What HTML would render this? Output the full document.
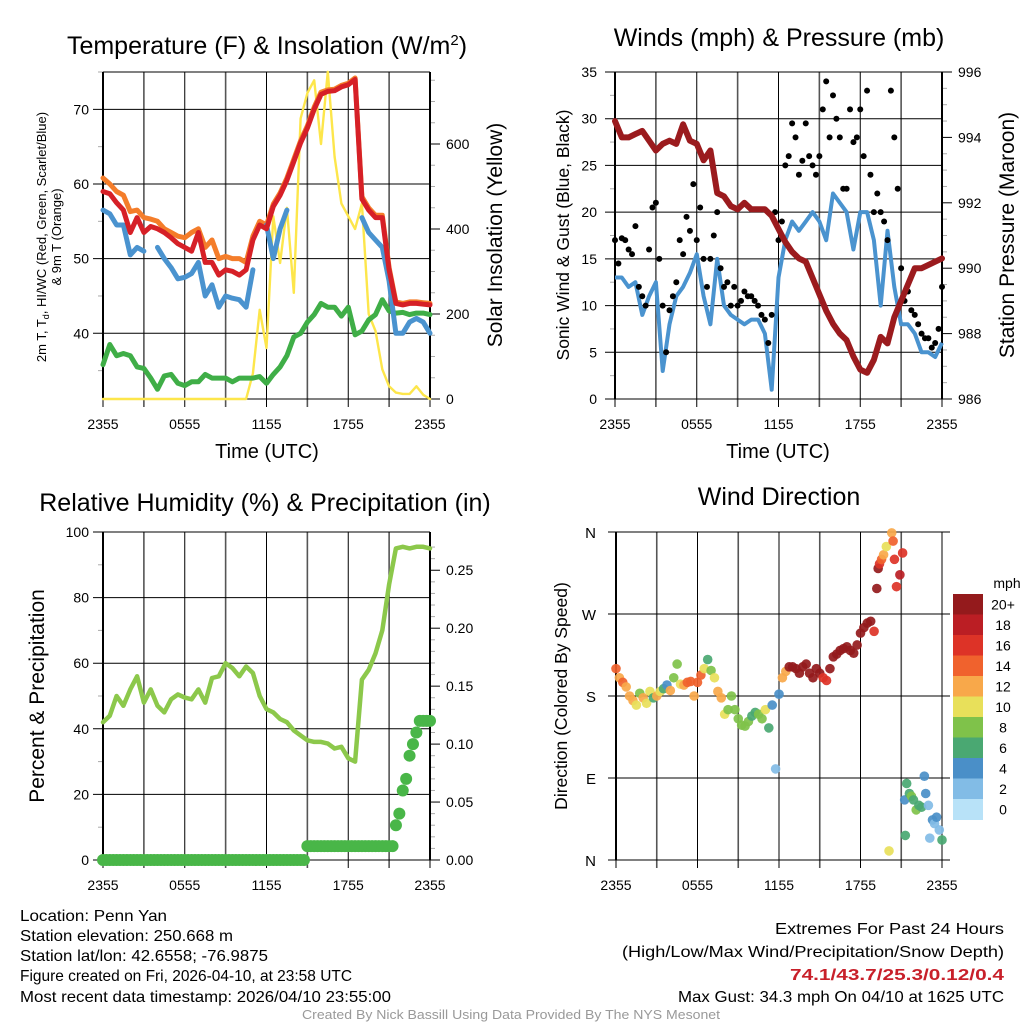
<!DOCTYPE html>
<html><head><meta charset="utf-8"><style>
html,body{margin:0;padding:0;background:#fff}
svg{display:block;font-family:"Liberation Sans",sans-serif}
</style></head><body>
<svg id="fig" width="1024" height="1024" viewBox="0 0 1024 1024" xmlns="http://www.w3.org/2000/svg">
<rect width="1024" height="1024" fill="#fff"/>
<g id="g"></g>
<g font-size="16" fill="#000">
<text x="20" y="921" textLength="147" lengthAdjust="spacingAndGlyphs">Location: Penn Yan</text>
<text x="20" y="941" textLength="213" lengthAdjust="spacingAndGlyphs">Station elevation: 250.668 m</text>
<text x="20" y="961" textLength="248" lengthAdjust="spacingAndGlyphs">Station lat/lon: 42.6558; -76.9875</text>
<text x="20" y="981" textLength="332" lengthAdjust="spacingAndGlyphs">Figure created on Fri, 2026-04-10, at 23:58 UTC</text>
<text x="20" y="1002" textLength="371" lengthAdjust="spacingAndGlyphs">Most recent data timestamp: 2026/04/10 23:55:00</text>
<text x="775" y="934" textLength="229" lengthAdjust="spacingAndGlyphs">Extremes For Past 24 Hours</text>
<text x="622" y="957" textLength="382" lengthAdjust="spacingAndGlyphs">(High/Low/Max Wind/Precipitation/Snow Depth)</text>
<text x="790" y="980" textLength="214" lengthAdjust="spacingAndGlyphs" fill="#c8202a" font-weight="bold">74.1/43.7/25.3/0.12/0.4</text>
<text x="678" y="1002" textLength="326" lengthAdjust="spacingAndGlyphs">Max Gust: 34.3 mph On 04/10 at 1625 UTC</text>
<text x="302" y="1019" textLength="418" lengthAdjust="spacingAndGlyphs" font-size="13" fill="#999">Created By Nick Bassill Using Data Provided By The NYS Mesonet</text>
</g>
</svg>
<script>
// ---------- data ----------
const hours = [0,0.5,1,1.5,2,2.5,3,3.5,4,4.5,5,5.5,6,6.5,7,7.5,8,8.5,9,9.5,10,10.5,11,11.5,12,12.5,13,13.5,14,14.5,15,15.5,16,16.5,17,17.5,18,18.5,19,19.5,20,20.5,21,21.5,22,22.5,23,23.5,24];
const xTickLabels = ["2355","0555","1155","1755","2355"];
const tempRed = [59,58.7,57.5,56.5,53.5,55.5,53.5,54.3,54,53.5,52.8,52,51.5,51,53.5,49.5,49.5,47.8,48.5,48.3,47.8,48.5,52.5,54.5,54,57,58.5,60.5,63,65.5,67.5,70,72,72.4,72.5,73,73.3,74,58,56.5,55.5,55.5,48.5,44,43.8,44,44,43.9,43.8];
const temp9m = [60.8,60,59,58.5,56.3,56.5,55.5,55.3,55,54,53.5,53,52.8,53.5,54,51.5,52.5,50,50.3,50,50,49.5,53,55,54.5,57.3,58.8,60.8,63.3,65.8,67.8,70.3,72.3,72.6,72.7,73.2,73.5,74.2,58.3,56.8,55.8,55.8,48.8,44.2,44,44.2,44.2,44.1,44];
const windChill = [56.5,56,54.5,54.5,50.5,51.5,51,null,51.5,50,48.8,47.3,47.5,48,49.5,45,46.5,43.5,45,44.7,44.5,43.5,48.5,null,54.5,50,54,56.5,null,null,null,null,null,null,null,null,null,null,55.5,53.5,52.5,51.5,47,40,40,41.5,42,41.5,40];
const dewpoint = [35.8,38.5,37,37.3,37,35.5,35.3,34,32.5,34.3,34.5,33.3,33,33.5,33.5,34.5,34,34,34,33.5,34,34,34,34.2,33.3,34.5,35.5,37,39.5,40,41.5,42.5,44,43.5,43.5,42.3,43.5,39.8,40.3,41.8,42.5,44.5,43,42.7,42.8,42.5,42.7,42.7,42.5];
const insolation = [0,0,0,0,0,0,0,0,0,0,0,0,0,0,0,0,0,0,0,0,0,0,60,210,120,430,320,450,250,660,720,750,600,770,570,460,430,400,460,200,160,70,30,15,12,12,30,10,0];
const tempTicks = [40,50,60,70];
const insolTicks = [0,200,400,600];
const sonicWind = [13,13,12,12.5,9,11,12.5,3,8,11,12,13.5,15.5,11,8,15,10,9,8.5,8,8.5,8.5,7,1,13,17,19,18,19,20,19,17,22,21,20,16,20,20,17,10,18,12,8,8,7,5,5,4.5,6];
const pressure = [994.5,994.0,994.0,994.1,994.2,993.9,993.6,993.8,993.9,993.8,994.4,993.9,993.8,993.3,993.6,992.3,992.2,991.9,991.8,992.0,991.8,991.8,991.8,991.6,991.2,990.8,990.5,990.3,990.2,989.7,989.2,988.7,988.3,988.0,987.8,987.3,986.9,986.8,987.2,987.9,987.7,988.5,989.0,989.5,990.0,990.0,990.1,990.2,990.3];
const gustHours = [0,0.25,0.5,0.75,1,1.25,1.5,1.75,2,2.25,2.5,2.75,3,3.25,3.5,3.75,4,4.25,4.5,4.75,5,5.25,5.5,5.75,6,6.25,6.5,6.75,7,7.25,7.5,7.75,8,8.25,8.5,8.75,9,9.25,9.5,9.75,10,10.25,10.5,10.75,11,11.25,11.5,11.75,12,12.25,12.5,12.75,13,13.25,13.5,13.75,14,14.25,14.5,14.75,15,15.25,15.5,15.75,16,16.25,16.5,16.75,17,17.25,17.5,17.75,18,18.25,18.5,18.75,19,19.25,19.5,19.75,20,20.25,20.5,20.75,21,21.25,21.5,21.75,22,22.25,22.5,22.75,23,23.25,23.5,23.75,24];
const gusts = [17,14.5,17.2,17,16,15.5,18.5,12,11,10,16,20.5,21,15,10,5,9.5,11,12.5,17,15.5,19.5,18,23,17,20.5,15,12,15,17.5,20,14,12,12.5,10,12,10,10.5,11.5,11,11,10.5,10,9,8.5,6,9,20,17,19,25,26,29.5,28,24,25.5,29.5,26,25,24,26,31,34,28,32.5,30,28,22.5,22.5,31,27.5,28,31,26,33,24,20,22,20,19,17,33,28,22.5,14,10.5,11.5,9.5,9,8,7,6.5,6.5,5.5,6,7.5,12];
const windTicks = [0,5,10,15,20,25,30,35];
const pressTicks = [986,988,990,992,994,996];
const relHum = [42,44,50,47,52,56,48,52,47,45,49,50.5,49.5,49,52,48,55.5,56,60,58.5,56,59,57,50,46,45,43,42,39.5,38,36.5,36,36,35.5,34,34.5,31,30,55,58,63,70,84,95,95.5,95,95.5,95.5,95];
const precip = [0,0,0,0,0,0,0,0,0,0,0,0,0,0,0,0,0,0,0,0,0,0,0,0,0,0,0,0,0,0,0,0,0,0,0,0,0,0,0,0,0,0,0,0,0,0,0,0,0,0,0,0,0,0,0,0,0,0,0,0,0.012,0.012,0.012,0.012,0.012,0.012,0.012,0.012,0.012,0.012,0.012,0.012,0.012,0.012,0.012,0.012,0.012,0.012,0.012,0.012,0.012,0.012,0.012,0.012,0.012,0.012,0.03,0.04,0.06,0.07,0.09,0.1,0.11,0.12,0.12,0.12,0.12];
const rhTicks = [0,20,40,60,80,100];
const precipTicks = ["0.00","0.05","0.10","0.15","0.20","0.25"];
const dirHours = [0,0.25,0.5,0.75,1,1.25,1.5,1.75,2,2.25,2.5,2.75,3,3.25,3.5,3.75,4,4.25,4.5,4.75,5,5.25,5.5,5.75,6,6.25,6.5,6.75,7,7.25,7.5,7.75,8,8.25,8.5,8.75,9,9.25,9.5,9.75,10,10.25,10.5,10.75,11,11.25,11.5,11.75,12,12.25,12.5,12.75,13,13.25,13.5,13.75,14,14.25,14.5,14.75,15,15.25,15.5,15.75,16,16.25,16.5,16.75,17,17.25,17.5,17.75,18,18.25,18.5,18.75,19,19.2,19.3,19.4,19.55,19.7,19.9,20.1,20.3,20.4,20.5,20.65,20.9,21.1,21.25,21.3,21.4,21.6,21.75,21.9,22.1,22.3,22.5,22.7,22.8,23,23.1,23.3,23.45,23.6,23.8,24];
const dirDegrees = [210,200,195,190,180,175,170,183,178,172,185,178,180,185,188,192,186,200,215,193,192,195,196,180,195,203,210,220,208,200,185,178,160,165,180,165,155,148,147,152,158,162,160,155,165,145,170,100,182,200,207,212,212,210,205,212,215,205,200,210,205,200,197,210,223,226,230,232,234,230,227,236,249,255,260,262,251,298,320,325,330,335,344,10,359,350,330,300,313,337,66,27,84,73,70,66,55,60,58,92,73,60,24,44,40,47,33,22];
const dirSpeeds = [14,13,15,13,12,12,10,9,12,11,10,7,13,10,6,4,12,9,8,10,12,14,15,13,14,14,11,7,8,11,12,13,10,9,8,8,8,8,8,8,7,7,9,8,10,6,4,2,4,13,13,20,20,20,21,20,20,21,21,22,20,17,17,21,21,22,22,22,23,20,22,21,21,22,22,21,17,20,20,17,15,13,11,10,12,14,16,17,18,16,4,7,7,7,8,6,8,7,6,4,4,3,3,4,3,4,3,6];
const dirLabels = ["N","E","S","W","N"];
const speedBins = ["0","2","4","6","8","10","12","14","16","18","20+"];
const speedColors = ["#b8e2f8","#82bce6","#4a8fc8","#4aa872","#7fc24a","#e8e05a","#f8a84a","#f0622d","#dd3327","#bb1e24","#941a1c"];

// ---------- helpers ----------
const NS = "http://www.w3.org/2000/svg";
const G = document.getElementById('g');
function mk(tag, attrs, parent){
  const e = document.createElementNS(NS, tag);
  for (const k in attrs) e.setAttribute(k, attrs[k]);
  (parent||G).appendChild(e);
  return e;
}
function txt(s, x, y, size, anchor, parent, rot){
  const t = mk('text', {x:x, y:y, 'font-size':size, 'text-anchor':anchor||'middle', fill:'#000'}, parent);
  if (rot) t.setAttribute('transform', 'rotate(-90 '+x+' '+y+')');
  t.textContent = s;
  return t;
}
function linePath(xs, ys, xf, yf){
  let d = '', pen = false;
  for (let i=0;i<xs.length;i++){
    if (ys[i]===null || ys[i]===undefined){ pen=false; continue; }
    d += (pen?'L':'M') + xf(xs[i]).toFixed(1) + ' ' + yf(ys[i]).toFixed(1);
    pen = true;
  }
  return d;
}
function frame(x0,x1,y0,y1,name){
  const g = mk('g', {});
  
  
  for (let i=0;i<=8;i++){
    const x = x0 + (x1-x0)*i/8;
    mk('line',{x1:x,y1:y0,x2:x,y2:y1+8,stroke:(i%2? '#555':'#000'),'stroke-width':(i%2?1.6:1)},g);
  }
  for (let i=0;i<xTickLabels.length;i++){
    const x = x0 + (x1-x0)*i/4;
    const t = txt(xTickLabels[i], x, y1+30, 14, 'middle', g);
    
    
  }
  return g;
}
function hgrid(g, x0, x1, y, leftTick, rightTick){
  mk('line',{x1:x0-(leftTick?10:0),y1:y,x2:x1+(rightTick?10:0),y2:y,stroke:'#000','stroke-width':1},g);
}
function minor(g, x, y, dir){
  mk('line',{x1:x,y1:y,x2:x+dir*5,y2:y,stroke:'#aaa','stroke-width':1},g);
}

// ---------- panel 1: temperature ----------
(function(){
  const x0=103,x1=430,y0=72,y1=399, tMin=31.2, tMax=75;
  const xs = h => x0+(x1-x0)*h/24;
  const yT = v => y1-(v-tMin)/(tMax-tMin)*(y1-y0);
  const yI = v => y1-v*0.425;
  const g = frame(x0,x1,y0,y1,'temperature');
  for (const v of [35,45,55,65,75]) minor(g,x0,yT(v),-1);
  for (const v of [50,100,150,250,300,350,450,500,550,650,700,750]) minor(g,x1,yI(v),1);
  for (const v of tempTicks){ hgrid(g,x0,x1,yT(v),true,false); txt(String(v),x0-14,yT(v)+5,14,'end',g); }
  for (const v of insolTicks){ mk('line',{x1:x1,y1:yI(v),x2:x1+10,y2:yI(v),stroke:'#000'},g); txt(String(v),x1+16,yI(v)+5,14,'start',g); }
  mk('line',{x1:x0,y1:y0,x2:x1,y2:y0,stroke:'#000'},g);
  mk('line',{x1:x0,y1:y1,x2:x1,y2:y1,stroke:'#000'},g);
  mk('line',{x1:x0,y1:y0,x2:x0,y2:y1,stroke:'#000','stroke-width':2},g);
  mk('line',{x1:x1,y1:y0,x2:x1,y2:y1,stroke:'#000','stroke-width':2},g);
  const series = [
    ['insolation-line', insolation, '#fde64b', 2.4, yI],
    ['dewpoint-line', dewpoint, '#3fae47', 5, yT],
    ['temp-9m-line', temp9m, '#f47d2a', 5, yT],
    ['windchill-line', windChill, '#4a93cf', 5, yT],
    ['temp-2m-line', tempRed, '#d62027', 5, yT]
  ];
  for (const s of series){
    const p = mk('path',{d:linePath(hours,s[1],xs,s[4]),fill:'none',stroke:s[2],'stroke-width':s[3],'stroke-linejoin':'round','stroke-linecap':'round'});
    
    
  }
  const t = mk('text',{x:267,y:54,'font-size':25,'text-anchor':'middle'});
  
  
  t.innerHTML = 'Temperature (F) &amp; Insolation (W/m<tspan dy="-9" font-size="15">2</tspan><tspan dy="9">)</tspan>';
  const yl = mk('text',{x:46,y:237,'font-size':13,'text-anchor':'middle',transform:'rotate(-90 46 237)'});
  
  
  yl.innerHTML = '2m T, T<tspan dy="3" font-size="9">d</tspan><tspan dy="-3">, HI/WC (Red, Green, Scarlet/Blue)</tspan>';
  const yl2 = txt('& 9m T (Orange)', 61, 237, 13, 'middle', null, true);
  
  
  const yr = txt('Solar Insolation (Yellow)', 502, 235, 21, 'middle', null, true);
  
  
  const xt = txt('Time (UTC)', 267, 458, 20);
  
  
})();

// ---------- panel 2: wind & pressure ----------
(function(){
  const x0=615,x1=942,y0=72,y1=399;
  const xs = h => x0+(x1-x0)*h/24;
  const yW = v => y1-v/35*(y1-y0);
  const yP = v => y1-(v-986)/10*(y1-y0);
  const g = frame(x0,x1,y0,y1,'wind');
  for (let i=0;i<20;i++){ const v=986.5+i*0.5; if (v%2!==0) minor(g,x1,yP(v),1); }
  for (const v of [2.5,7.5,12.5,17.5,22.5,27.5,32.5]) minor(g,x0,yW(v),-1);
  for (const v of windTicks){ hgrid(g,x0,x1,yW(v),true,false); txt(String(v),x0-18,yW(v)+5,14,'end',g); }
  for (const v of pressTicks){ mk('line',{x1:x1,y1:yP(v),x2:x1+10,y2:yP(v),stroke:'#000'},g); txt(String(v),x1+16,yP(v)+5,14,'start',g); }
  mk('line',{x1:x0,y1:y0,x2:x0,y2:y1,stroke:'#000','stroke-width':2},g);
  mk('line',{x1:x1,y1:y0,x2:x1,y2:y1,stroke:'#000','stroke-width':2},g);
  const wl = mk('path',{d:linePath(hours,sonicWind,xs,yW),fill:'none',stroke:'#4a93cf','stroke-width':4,'stroke-linejoin':'round'});
  
  
  for (let i=0;i<gusts.length;i++){
    const c = mk('circle',{cx:xs(gustHours[i]),cy:yW(gusts[i]),r:3,fill:'#000'});
    
    
  }
  const pl = mk('path',{d:linePath(hours,pressure,xs,yP),fill:'none',stroke:'#9b1b1e','stroke-width':6,'stroke-linejoin':'round','stroke-linecap':'round'});
  
  
  const t = txt('Winds (mph) & Pressure (mb)', 779, 46, 25);
  
  
  const yl = txt('Sonic Wind & Gust (Blue, Black)', 569, 235, 17.5, 'middle', null, true);
  
  
  const yr = txt('Station Pressure (Maroon)', 1014, 235, 21, 'middle', null, true);
  
  
  const xt = txt('Time (UTC)', 778, 458, 20);
  
  
})();

// ---------- panel 3: RH & precip ----------
(function(){
  const x0=103,x1=430,y0=532,y1=860;
  const xs = h => x0+(x1-x0)*h/24;
  const yR = v => y1-v/100*(y1-y0);
  const yPr = v => y1-v/0.283*(y1-y0);
  const g = frame(x0,x1,y0,y1,'humidity');
  for (const v of [10,30,50,70,90]) minor(g,x0,yR(v),-1);
  for (let i=1;i<28;i++){ if (i%5) minor(g,x1,yPr(i/100),1); }
  for (const v of rhTicks){ hgrid(g,x0,x1,yR(v),true,false); txt(String(v),x0-14,yR(v)+5,14,'end',g); }
  for (const s of precipTicks){ const v=parseFloat(s); mk('line',{x1:x1,y1:yPr(v),x2:x1+10,y2:yPr(v),stroke:'#000'},g); txt(s,x1+16,yPr(v)+5,14,'start',g); }
  mk('line',{x1:x0,y1:y0,x2:x0,y2:y1,stroke:'#000','stroke-width':2},g);
  mk('line',{x1:x1,y1:y0,x2:x1,y2:y1,stroke:'#000','stroke-width':2},g);
  const rl = mk('path',{d:linePath(hours,relHum,xs,yR),fill:'none',stroke:'#8cc84b','stroke-width':4.5,'stroke-linejoin':'round','stroke-linecap':'round'});
  
  
  for (let i=0;i<precip.length;i++){
    const c = mk('circle',{cx:xs(gustHours[i]),cy:yPr(precip[i]),r:6,fill:'#49b648'});
    
    
  }
  const t = txt('Relative Humidity (%) & Precipitation (in)', 265, 511, 25);
  
  
  const yl = txt('Percent & Precipitation', 44, 696, 21, 'middle', null, true);
  
  
})();

// ---------- panel 4: wind direction ----------
(function(){
  const x0=616,x1=942,y0=532,y1=860;
  const xs = h => x0+(x1-x0)*h/24;
  const yD = v => y1-v/360*(y1-y0);
  const g = frame(x0,x1,y0,y1,'direction');
  for (let i=0;i<dirLabels.length;i++){ const v=i*90; hgrid(g,x0-8,x1+8,yD(v),false,false); txt(dirLabels[i],x0-20,yD(v)+6,15,'end',g); }
  mk('line',{x1:x0,y1:y0,x2:x0,y2:y1,stroke:'#000','stroke-width':2},g);
  for (let i=0;i<dirDegrees.length;i++){
    const bin = Math.min(10, Math.floor(dirSpeeds[i]/2));
    const c = mk('circle',{cx:xs(dirHours[i]),cy:yD(dirDegrees[i]),r:4.8,fill:speedColors[bin],'fill-opacity':0.92});
    
    
  }
  const lg = mk('g',{});
  
  
  const bx=953,bw=30,by0=594,bh=20.5;
  for (let i=0;i<speedBins.length;i++){
    const k = speedBins.length-1-i;
    const r = mk('rect',{x:bx,y:by0+i*bh,width:bw,height:bh+0.5,fill:speedColors[k]},lg);
    
    
    txt(speedBins[k], 1003, by0+i*bh+bh/2+5, 14, 'middle', lg);
  }
  txt('mph', 1007, 588, 14, 'middle', lg);
  const t = txt('Wind Direction', 779, 505, 25);
  
  
  const yl = txt('Direction (Colored By Speed)', 567, 696, 17.5, 'middle', null, true);
  
  
})();
</script>
</body></html>
